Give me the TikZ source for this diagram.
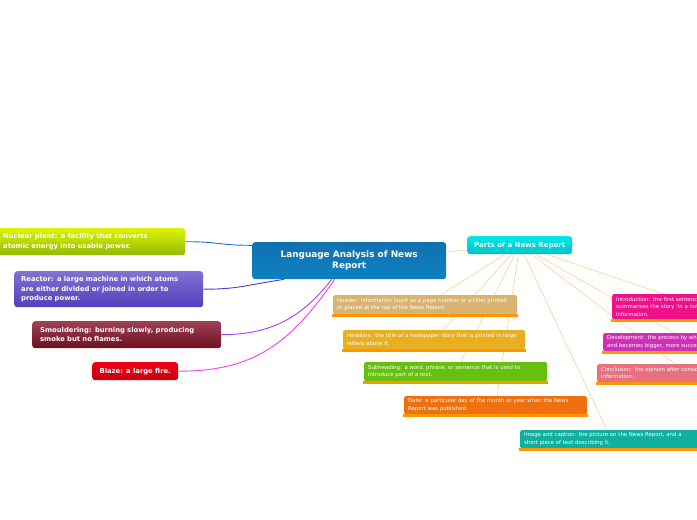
\documentclass[tikz,border=0pt]{standalone}
\usepackage{fontspec}
\setmainfont{DejaVu Sans}
\usepackage{tikz}
\usetikzlibrary{backgrounds}

\definecolor{langtop}{RGB}{16,112,178}
\definecolor{langbot}{RGB}{14,130,192}
\definecolor{partstop}{RGB}{0,232,232}
\definecolor{partsbot}{RGB}{0,196,200}
\definecolor{nuctop}{RGB}{220,244,0}
\definecolor{nucbot}{RGB}{150,184,0}
\definecolor{reacttop}{RGB}{130,112,210}
\definecolor{reactbot}{RGB}{84,62,186}
\definecolor{smoultop}{RGB}{160,64,84}
\definecolor{smoulbot}{RGB}{110,16,32}
\definecolor{blazetop}{RGB}{240,0,20}
\definecolor{blazebot}{RGB}{200,0,16}
\definecolor{connorange}{RGB}{255,200,128}
\definecolor{ulorange}{RGB}{255,150,0}

\begin{document}
\begin{tikzpicture}[x=1pt, y=-1pt,
    topic/.style={rounded corners=3pt, text=white, anchor=north west, align=center, inner sep=0pt},
    defbox/.style={rounded corners=3pt, text=white, font=\fontsize{6.8}{9.2}\selectfont\bfseries, align=left, anchor=north west, inner ysep=0pt},
    part/.style={rounded corners=1.5pt, text=white, font=\fontsize{5.35}{7.4}\selectfont, align=left, anchor=north west, inner xsep=4pt, inner ysep=0pt},
    conn/.style={draw=connorange, line width=0.5pt},
    uline/.style={draw=ulorange, line width=2.2pt},
    link/.style={line width=0.9pt}
]
    \useasboundingbox (0,0) rectangle (697,520);

    % main topics
    \node[topic, top color=langtop, bottom color=langbot, minimum width=194pt, minimum height=37pt,
          font=\fontsize{8.9}{11.5}\selectfont\bfseries] (lang) at (252,242) {Language Analysis of News\\Report};
    \node[topic, top color=partstop, bottom color=partsbot, minimum width=105pt, minimum height=18pt,
          font=\fontsize{7}{8}\selectfont\bfseries] (parts) at (467,236) {Parts of a News Report};

    % vocabulary on the left
    \node[defbox, top color=nuctop, bottom color=nucbot, inner xsep=9pt, text width=173pt, minimum height=27pt] (nuc) at (-6,228)
        {Nuclear plant: a facility that converts\\atomic energy into usable power.};
    \node[defbox, top color=reacttop, bottom color=reactbot, inner xsep=7pt, text width=175pt, minimum height=36pt] (react) at (14,271)
        {Reactor: a large machine in which atoms\\are either divided or joined in order to\\produce power.};
    \node[defbox, top color=smoultop, bottom color=smoulbot, inner xsep=8pt, text width=173pt, minimum height=27pt] (smoul) at (32,321)
        {Smouldering: burning slowly, producing\\smoke but no flames.};
    \node[defbox, top color=blazetop, bottom color=blazebot, align=center, minimum width=86pt, minimum height=18pt] (blaze) at (92,362)
        {Blaze: a large fire.};

    % parts
    \node[part, fill={rgb,255:red,216;green,180;blue,112}, text width=176pt, minimum height=19pt] (header) at (333,295)
        {Header: information (such as a page number or a title) printed\\or placed at the top of the News Report.};
    \node[part, fill={rgb,255:red,232;green,176;blue,32}, text width=174pt, minimum height=19pt] (headline) at (343,330)
        {Headline: the title of a newspaper story that is printed in large\\letters above it.};
    \node[part, fill={rgb,255:red,102;green,192;blue,16}, text width=175pt, minimum height=19pt] (subhead) at (364,362)
        {Subheading: a word, phrase, or sentence that is used to\\introduce part of a text.};
    \node[part, fill={rgb,255:red,240;green,112;blue,16}, text width=175pt, minimum height=18pt] (date) at (404,396)
        {Date: a particular day of the month or year when the News\\Report was published.};
    \node[part, fill={rgb,255:red,16;green,176;blue,160}, text width=174pt, minimum height=18pt] (image) at (520,430)
        {Image and caption: the picture on the News Report, and a\\short piece of text describing it.};
    \node[part, fill={rgb,255:red,240;green,16;blue,138}, text width=170pt, minimum height=25pt] (intro) at (612,294)
        {Introduction: the first sentence of the News Report, which\\summarises the story `in a nutshell' and gives the key\\information.};
    \node[part, fill={rgb,255:red,208;green,48;blue,184}, text width=166pt, minimum height=18pt] (devel) at (603,333)
        {Development: the process by which something grows\\and becomes bigger, more successful or more advanced.};
    \node[part, fill={rgb,255:red,232;green,112;blue,128}, text width=172pt, minimum height=18pt] (concl) at (597,364)
        {Conclusion: the opinion after considering all the relevant\\information.};

    \foreach \n in {header,headline,subhead,date,image,intro,devel,concl}
        \draw[uline] ([xshift=-1pt,yshift=-1pt]\n.south west) -- ([xshift=1pt,yshift=-1pt]\n.south east);

    \begin{pgfonlayer}{background}
        \draw[conn] (lang) -- (parts);
        \foreach \n in {header,headline,subhead,date,image,intro,devel,concl}
            \draw[conn] (parts) -- (\n);
    \end{pgfonlayer}

    \draw[link, draw={rgb,255:red,48;green,96;blue,240}] (lang.171) .. controls +(-35,0) and +(35,0) .. (nuc.east);
    \draw[link, draw={rgb,255:red,84;green,48;blue,224}] (lang.196) .. controls +(-40,6) and +(35,0) .. (react.east);
    \draw[link, draw={rgb,255:red,168;green,64;blue,240}] (lang.227) .. controls +(-30,38) and +(50,0) .. (smoul.east);
    \draw[link, draw={rgb,255:red,240;green,64;blue,240}] (lang.232) .. controls +(-45,65) and +(75,0) .. (blaze.east);
\end{tikzpicture}
\end{document}
